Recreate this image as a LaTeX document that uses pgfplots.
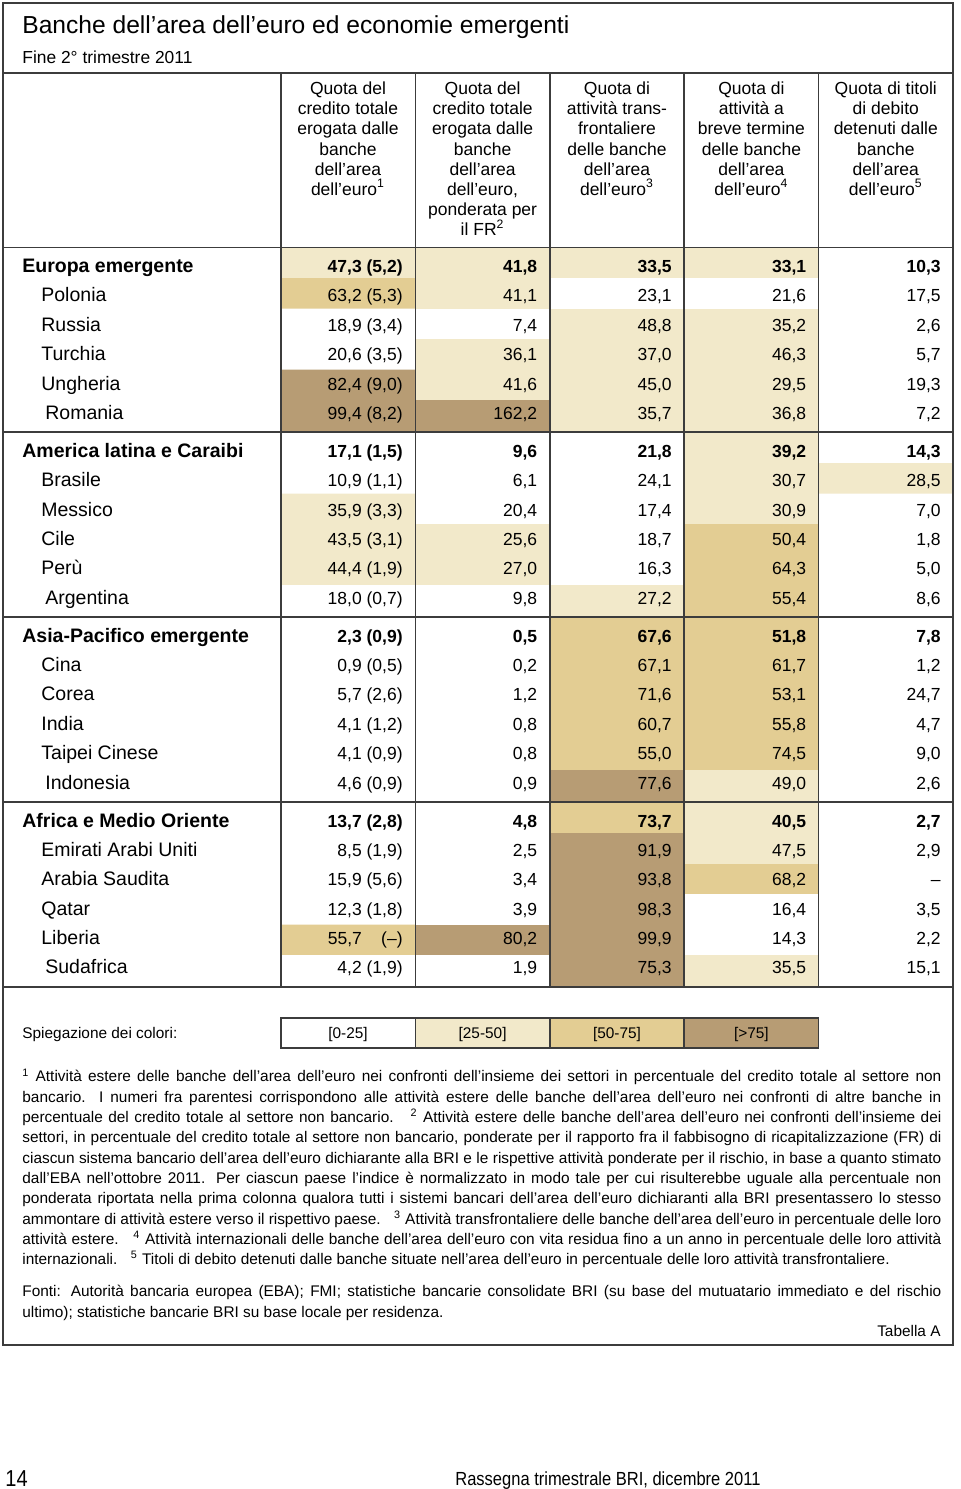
\documentclass[border=0pt]{standalone}
\usepackage{fontspec}
\setmainfont{Liberation Sans}
\usepackage{pgfplots}
\usepackage{pgfplotstable}
\pgfplotsset{compat=1.18}

\definecolor{lc}{RGB}{60,60,60}
\definecolor{cA}{RGB}{242,233,202}
\definecolor{cB}{RGB}{227,205,147}
\definecolor{cC}{RGB}{183,156,116}

\newcommand{\valfont}{\fontsize{8.75}{10}\selectfont}
\newcommand{\labfont}{\fontsize{9.75}{11}\selectfont}
\newcommand{\hfont}{\fontsize{8.75}{10}\selectfont}
\newcommand{\fnfont}{\fontsize{7.7}{10}\selectfont}
\newlength{\fnw}\setlength{\fnw}{459.5pt}
\newcommand{\sk}[1]{\textsuperscript{#1}}
\newcommand{\hd}[3]{\node[anchor=base,inner sep=0pt,font=\hfont] at (axis cs:#1,#2) {#3};}
\newcommand{\fl}[2]{\node[anchor=base west,inner sep=0pt,font=\fnfont] at (axis cs:22,#1) {\hbox to \fnw{#2}};}
\newcommand{\fll}[2]{\node[anchor=base west,inner sep=0pt,font=\fnfont] at (axis cs:22,#1) {#2};}

\pgfplotstableread[col sep=semicolon]{
y;name;a;b;c;d;e
272.5;Europa emergente;47,3 (5,2);41,8;33,5;33,1;10,3
457.5;America latina e Caraibi;17,1 (1,5);9,6;21,8;39,2;14,3
642.5;Asia-Pacifico emergente;2,3 (0,9);0,5;67,6;51,8;7,8
827.5;Africa e Medio Oriente;13,7 (2,8);4,8;73,7;40,5;2,7
}\groups

\pgfplotstableread[col sep=semicolon]{
y;lx;name;a;b;c;d;e
301.5;41;Polonia;63,2 (5,3);41,1;23,1;21,6;17,5
331.5;41;Russia;18,9 (3,4);7,4;48,8;35,2;2,6
360.5;41;Turchia;20,6 (3,5);36,1;37,0;46,3;5,7
390.5;41;Ungheria;82,4 (9,0);41,6;45,0;29,5;19,3
419.5;45;Romania;99,4 (8,2);162,2;35,7;36,8;7,2
486.5;41;Brasile;10,9 (1,1);6,1;24,1;30,7;28,5
516.5;41;Messico;35,9 (3,3);20,4;17,4;30,9;7,0
545.5;41;Cile;43,5 (3,1);25,6;18,7;50,4;1,8
574.5;41;Perù;44,4 (1,9);27,0;16,3;64,3;5,0
604.5;45;Argentina;18,0 (0,7);9,8;27,2;55,4;8,6
671.5;41;Cina;0,9 (0,5);0,2;67,1;61,7;1,2
700.5;41;Corea;5,7 (2,6);1,2;71,6;53,1;24,7
730.5;41;India;4,1 (1,2);0,8;60,7;55,8;4,7
759.5;41;Taipei Cinese;4,1 (0,9);0,8;55,0;74,5;9,0
789.5;45;Indonesia;4,6 (0,9);0,9;77,6;49,0;2,6
856.5;41;Emirati Arabi Uniti;8,5 (1,9);2,5;91,9;47,5;2,9
885.5;41;Arabia Saudita;15,9 (5,6);3,4;93,8;68,2;–
915.5;41;Qatar;12,3 (1,8);3,9;98,3;16,4;3,5
944.5;41;Liberia;55,7\hspace{1.1em}(–);80,2;99,9;14,3;2,2
973.5;45;Sudafrica;4,2 (1,9);1,9;75,3;35,5;15,1
}\countries

\begin{document}
\begin{tikzpicture}
\begin{axis}[
  x=0.5pt, y=0.5pt,
  xmin=0, xmax=960, ymin=0, ymax=1489,
  y dir=reverse,
  hide axis,
  clip=false,
  point meta min=0, point meta max=3,
  colormap={tab}{rgb255=(255,255,255) rgb255=(242,233,202) rgb255=(227,205,147) rgb255=(183,156,116)},
]
\path (axis cs:0,0) rectangle (axis cs:960,1489);

% ---- coloured cells (category 0: <25, 1: 25-50, 2: 50-75, 3: >75)
\addplot[matrix plot*, mesh/cols=5, point meta=explicit] coordinates {
(348.2,263.25)[1] (482.6,263.25)[1] (617,263.25)[1] (751.4,263.25)[1] (885.8,263.25)[0]
(348.2,293.75)[2] (482.6,293.75)[1] (617,293.75)[0] (751.4,293.75)[0] (885.8,293.75)[0]
(348.2,324.25)[0] (482.6,324.25)[0] (617,324.25)[1] (751.4,324.25)[1] (885.8,324.25)[0]
(348.2,354.75)[0] (482.6,354.75)[1] (617,354.75)[1] (751.4,354.75)[1] (885.8,354.75)[0]
(348.2,385.25)[3] (482.6,385.25)[1] (617,385.25)[1] (751.4,385.25)[1] (885.8,385.25)[0]
(348.2,415.75)[3] (482.6,415.75)[3] (617,415.75)[1] (751.4,415.75)[1] (885.8,415.75)[0]
};
\addplot[matrix plot*, mesh/cols=5, point meta=explicit] coordinates {
(348.2,448.25)[0] (482.6,448.25)[0] (617,448.25)[0] (751.4,448.25)[1] (885.8,448.25)[0]
(348.2,478.75)[0] (482.6,478.75)[0] (617,478.75)[0] (751.4,478.75)[1] (885.8,478.75)[1]
(348.2,509.25)[1] (482.6,509.25)[0] (617,509.25)[0] (751.4,509.25)[1] (885.8,509.25)[0]
(348.2,539.75)[1] (482.6,539.75)[1] (617,539.75)[0] (751.4,539.75)[2] (885.8,539.75)[0]
(348.2,570.25)[1] (482.6,570.25)[1] (617,570.25)[0] (751.4,570.25)[2] (885.8,570.25)[0]
(348.2,600.75)[0] (482.6,600.75)[0] (617,600.75)[1] (751.4,600.75)[2] (885.8,600.75)[0]
};
\addplot[matrix plot*, mesh/cols=5, point meta=explicit] coordinates {
(348.2,633.25)[0] (482.6,633.25)[0] (617,633.25)[2] (751.4,633.25)[2] (885.8,633.25)[0]
(348.2,663.75)[0] (482.6,663.75)[0] (617,663.75)[2] (751.4,663.75)[2] (885.8,663.75)[0]
(348.2,694.25)[0] (482.6,694.25)[0] (617,694.25)[2] (751.4,694.25)[2] (885.8,694.25)[0]
(348.2,724.75)[0] (482.6,724.75)[0] (617,724.75)[2] (751.4,724.75)[2] (885.8,724.75)[0]
(348.2,755.25)[0] (482.6,755.25)[0] (617,755.25)[2] (751.4,755.25)[2] (885.8,755.25)[0]
(348.2,785.75)[0] (482.6,785.75)[0] (617,785.75)[3] (751.4,785.75)[1] (885.8,785.75)[0]
};
\addplot[matrix plot*, mesh/cols=5, point meta=explicit] coordinates {
(348.2,818.25)[0] (482.6,818.25)[0] (617,818.25)[2] (751.4,818.25)[1] (885.8,818.25)[0]
(348.2,848.75)[0] (482.6,848.75)[0] (617,848.75)[3] (751.4,848.75)[1] (885.8,848.75)[0]
(348.2,879.25)[0] (482.6,879.25)[0] (617,879.25)[3] (751.4,879.25)[2] (885.8,879.25)[0]
(348.2,909.75)[0] (482.6,909.75)[0] (617,909.75)[3] (751.4,909.75)[0] (885.8,909.75)[0]
(348.2,940.25)[2] (482.6,940.25)[3] (617,940.25)[3] (751.4,940.25)[0] (885.8,940.25)[0]
(348.2,970.75)[0] (482.6,970.75)[0] (617,970.75)[3] (751.4,970.75)[1] (885.8,970.75)[0]
};

% ---- row labels
\addplot[only marks, mark=none, nodes near coords, point meta=explicit symbolic,
  every node near coord/.append style={anchor=base west, inner sep=0pt, font=\labfont\bfseries}]
  table[x expr=22, y=y, meta=name] \groups;
\addplot[only marks, mark=none, nodes near coords, point meta=explicit symbolic,
  every node near coord/.append style={anchor=base west, inner sep=0pt, font=\labfont}]
  table[x=lx, y=y, meta=name] \countries;

% ---- values
\pgfplotsinvokeforeach{a/403,b/537.5,c/672,d/806.5,e/941}{}
\addplot[only marks, mark=none, nodes near coords, point meta=explicit symbolic,
  every node near coord/.append style={anchor=base east, inner sep=0pt, font=\valfont\bfseries}]
  table[x expr=403, y=y, meta=a] \groups;
\addplot[only marks, mark=none, nodes near coords, point meta=explicit symbolic,
  every node near coord/.append style={anchor=base east, inner sep=0pt, font=\valfont\bfseries}]
  table[x expr=537.5, y=y, meta=b] \groups;
\addplot[only marks, mark=none, nodes near coords, point meta=explicit symbolic,
  every node near coord/.append style={anchor=base east, inner sep=0pt, font=\valfont\bfseries}]
  table[x expr=672, y=y, meta=c] \groups;
\addplot[only marks, mark=none, nodes near coords, point meta=explicit symbolic,
  every node near coord/.append style={anchor=base east, inner sep=0pt, font=\valfont\bfseries}]
  table[x expr=806.5, y=y, meta=d] \groups;
\addplot[only marks, mark=none, nodes near coords, point meta=explicit symbolic,
  every node near coord/.append style={anchor=base east, inner sep=0pt, font=\valfont\bfseries}]
  table[x expr=941, y=y, meta=e] \groups;

\addplot[only marks, mark=none, nodes near coords, point meta=explicit symbolic,
  every node near coord/.append style={anchor=base east, inner sep=0pt, font=\valfont}]
  table[x expr=403, y=y, meta=a] \countries;
\addplot[only marks, mark=none, nodes near coords, point meta=explicit symbolic,
  every node near coord/.append style={anchor=base east, inner sep=0pt, font=\valfont}]
  table[x expr=537.5, y=y, meta=b] \countries;
\addplot[only marks, mark=none, nodes near coords, point meta=explicit symbolic,
  every node near coord/.append style={anchor=base east, inner sep=0pt, font=\valfont}]
  table[x expr=672, y=y, meta=c] \countries;
\addplot[only marks, mark=none, nodes near coords, point meta=explicit symbolic,
  every node near coord/.append style={anchor=base east, inner sep=0pt, font=\valfont}]
  table[x expr=806.5, y=y, meta=d] \countries;
\addplot[only marks, mark=none, nodes near coords, point meta=explicit symbolic,
  every node near coord/.append style={anchor=base east, inner sep=0pt, font=\valfont}]
  table[x expr=941, y=y, meta=e] \countries;

% ---- rules
\draw[lc, line width=1pt] (axis cs:3,3) rectangle (axis cs:953,1345);
\draw[lc, line width=0.8pt] (axis cs:3,73) -- (axis cs:953,73);
\draw[lc, line width=0.8pt] (axis cs:3,247.5) -- (axis cs:953,247.5);
\draw[lc, line width=0.8pt] (axis cs:3,432) -- (axis cs:953,432);
\draw[lc, line width=0.8pt] (axis cs:3,617) -- (axis cs:953,617);
\draw[lc, line width=0.8pt] (axis cs:3,802) -- (axis cs:953,802);
\draw[lc, line width=0.8pt] (axis cs:3,987) -- (axis cs:953,987);
\draw[lc, line width=0.8pt] (axis cs:281,73) -- (axis cs:281,987);
\draw[lc, line width=0.8pt] (axis cs:415.4,73) -- (axis cs:415.4,987);
\draw[lc, line width=0.8pt] (axis cs:549.8,73) -- (axis cs:549.8,987);
\draw[lc, line width=0.8pt] (axis cs:684.2,73) -- (axis cs:684.2,987);
\draw[lc, line width=0.8pt] (axis cs:818.6,73) -- (axis cs:818.6,987);

% ---- title
\node[anchor=base west, inner sep=0pt, font=\fontsize{12.3}{14}\selectfont] at (axis cs:22,33) {Banche dell’area dell’euro ed economie emergenti};
\node[anchor=base west, inner sep=0pt, font=\fontsize{8.7}{10}\selectfont] at (axis cs:22,63) {Fine 2° trimestre 2011};

% ---- column headers
\hd{348}{94.5}{Quota del}
\hd{348}{114.7}{credito totale}
\hd{348}{134.9}{erogata dalle}
\hd{348}{155.1}{banche}
\hd{348}{175.3}{dell’area}
\hd{348}{195.5}{dell’euro\sk{1}}
\hd{482.6}{94.5}{Quota del}
\hd{482.6}{114.7}{credito totale}
\hd{482.6}{134.9}{erogata dalle}
\hd{482.6}{155.1}{banche}
\hd{482.6}{175.3}{dell’area}
\hd{482.6}{195.5}{dell’euro,}
\hd{482.6}{215.7}{ponderata per}
\hd{482.6}{235.9}{il FR\sk{2}}
\hd{617}{94.5}{Quota di}
\hd{617}{114.7}{attività trans-}
\hd{617}{134.9}{frontaliere}
\hd{617}{155.1}{delle banche}
\hd{617}{175.3}{dell’area}
\hd{617}{195.5}{dell’euro\sk{3}}
\hd{751.4}{94.5}{Quota di}
\hd{751.4}{114.7}{attività a}
\hd{751.4}{134.9}{breve termine}
\hd{751.4}{155.1}{delle banche}
\hd{751.4}{175.3}{dell’area}
\hd{751.4}{195.5}{dell’euro\sk{4}}
\hd{885.8}{94.5}{Quota di titoli}
\hd{885.8}{114.7}{di debito}
\hd{885.8}{134.9}{detenuti dalle}
\hd{885.8}{155.1}{banche}
\hd{885.8}{175.3}{dell’area}
\hd{885.8}{195.5}{dell’euro\sk{5}}

% ---- colour key
\node[anchor=base west, inner sep=0pt, font=\fnfont] at (axis cs:22,1038.5) {Spiegazione dei colori:};
\fill[cA] (axis cs:415.4,1018) rectangle (axis cs:549.8,1048);
\fill[cB] (axis cs:549.8,1018) rectangle (axis cs:684.2,1048);
\fill[cC] (axis cs:684.2,1018) rectangle (axis cs:818.6,1048);
\draw[lc, line width=0.8pt] (axis cs:281,1018) rectangle (axis cs:818.6,1048);
\draw[lc, line width=0.8pt] (axis cs:415.4,1018) -- (axis cs:415.4,1048);
\draw[lc, line width=0.8pt] (axis cs:549.8,1018) -- (axis cs:549.8,1048);
\draw[lc, line width=0.8pt] (axis cs:684.2,1018) -- (axis cs:684.2,1048);
\node[anchor=base, inner sep=0pt, font=\fnfont] at (axis cs:348,1038.5) {[0-25]};
\node[anchor=base, inner sep=0pt, font=\fnfont] at (axis cs:482.6,1038.5) {[25-50]};
\node[anchor=base, inner sep=0pt, font=\fnfont] at (axis cs:617,1038.5) {[50-75]};
\node[anchor=base, inner sep=0pt, font=\fnfont] at (axis cs:751.4,1038.5) {[>75]};

% ---- footnotes
\fl{1081.7}{\sk{1} Attività estere delle banche dell’area dell’euro nei confronti dell’insieme dei settori in percentuale del credito totale al settore non}
\fl{1102}{bancario. I numeri fra parentesi corrispondono alle attività estere delle banche dell’area dell’euro nei confronti di altre banche in}
\fl{1122.3}{percentuale del credito totale al settore non bancario.\hspace{0.5em} \sk{2} Attività estere delle banche dell’area dell’euro nei confronti dell’insieme dei}
\fl{1142.6}{settori, in percentuale del credito totale al settore non bancario, ponderate per il rapporto fra il fabbisogno di ricapitalizzazione (FR) di}
\fl{1163}{ciascun sistema bancario dell’area dell’euro dichiarante alla BRI e le rispettive attività ponderate per il rischio, in base a quanto stimato}
\fl{1183.3}{dall’EBA nell’ottobre 2011. Per ciascun paese l’indice è normalizzato in modo tale per cui risulterebbe uguale alla percentuale non}
\fl{1203.6}{ponderata riportata nella prima colonna qualora tutti i sistemi bancari dell’area dell’euro dichiaranti alla BRI presentassero lo stesso}
\fl{1224}{ammontare di attività estere verso il rispettivo paese.\hspace{0.5em} \sk{3} Attività transfrontaliere delle banche dell’area dell’euro in percentuale delle loro}
\fl{1244.3}{attività estere.\hspace{0.5em} \sk{4} Attività internazionali delle banche dell’area dell’euro con vita residua fino a un anno in percentuale delle loro attività}
\fll{1264.6}{internazionali.\hspace{0.5em} \sk{5} Titoli di debito detenuti dalle banche situate nell’area dell’euro in percentuale delle loro attività transfrontaliere.}
\fl{1296.7}{Fonti: Autorità bancaria europea (EBA); FMI; statistiche bancarie consolidate BRI (su base del mutuatario immediato e del rischio}
\fll{1317}{ultimo); statistiche bancarie BRI su base locale per residenza.}
\node[anchor=base east, inner sep=0pt, font=\fnfont] at (axis cs:941,1336) {Tabella A};

% ---- page footer
\node[anchor=base west, inner sep=0pt, font=\fontsize{10}{12}\selectfont, yscale=1.15] at (axis cs:5,1486) {14};
\node[anchor=base west, inner sep=0pt, font=\fontsize{8.25}{10}\selectfont, yscale=1.15] at (axis cs:455,1485) {Rassegna trimestrale BRI, dicembre 2011};
\end{axis}
\end{tikzpicture}
\end{document}
